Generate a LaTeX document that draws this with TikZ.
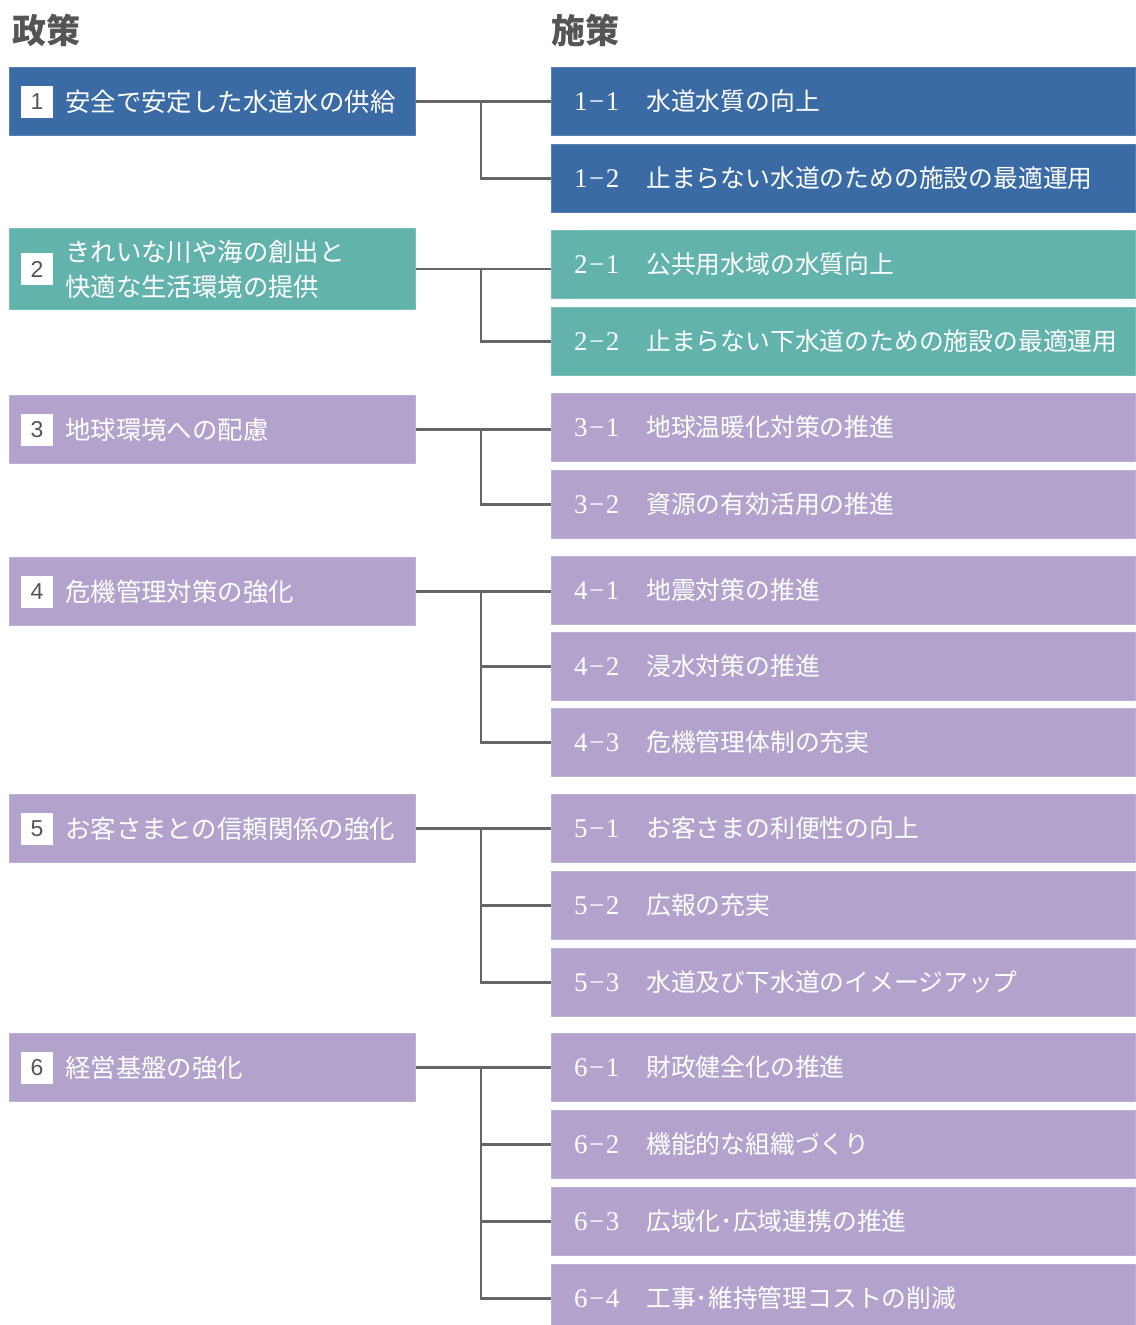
\documentclass[tikz,border=0pt]{standalone}
\usepackage{fontspec}
\newfontfamily\jp{Noto Sans CJK JP}
\newfontfamily\numfont{Liberation Sans}
\newfontfamily\numserif{Liberation Serif}
\definecolor{cblue}{RGB}{58,107,165}
\definecolor{cteal}{RGB}{98,179,171}
\definecolor{cpurp}{RGB}{179,163,204}
\definecolor{cline}{RGB}{102,102,102}
\definecolor{chead}{RGB}{85,85,85}
\tikzset{
  lb/.style={rectangle, inner sep=0pt, minimum width=406pt, line width=1pt},
  rb/.style={rectangle, inner sep=0pt, minimum width=584pt, minimum height=68pt, line width=1pt},
  rt/.style={inner sep=0pt, text=white, font=\jp\fontsize{24.8}{30}\selectfont},
  lt/.style={inner sep=0pt, text=white, align=left, font=\jp\fontsize{25.4}{35}\selectfont},
  badge/.style={rectangle, fill=white, inner sep=0pt, minimum width=32pt, minimum height=32pt, text=chead, font=\numfont\fontsize{23}{23}\selectfont},
  conn/.style={draw=cline, line width=2.5pt},
  head/.style={inner sep=0pt, text=chead, font=\jp\bfseries\fontsize{34}{34}\selectfont}
}
\newcommand\mynum[2]{\makebox[72pt][l]{\numserif\fontsize{27}{30}\selectfont #1\kern1.5pt−\kern1.5pt#2}}
\newcommand\myrbox[6]{%
  \node[rb, fill=#2, draw=#2!85!white, anchor=north west] (#1) at (551,#3) {};
  \node[rt, anchor=west] (#1t) at ([xshift=23pt]#1.west) {\mynum{#4}{#5}#6};
}
\newcommand\mylbox[5]{%
  \node[lb, fill=#2, draw=#2!85!white, minimum height=#4, anchor=north west] (#1) at (9,#3) {};
  \node[badge] (#1b) at ([xshift=28pt]#1.west) {#5};
}
\begin{document}
\begin{tikzpicture}[x=1pt,y=-1pt]
\useasboundingbox (0,0) rectangle (1135,1325);
\node[head, anchor=north west] (h1) at (12,14) {政策};
\node[head, anchor=north west] (h2) at (551,14) {施策};

% left boxes
\mylbox{L1}{cblue}{67}{68pt}{1}
\node[lt, anchor=west] (L1t) at ([xshift=56pt]L1.west) {安全で安定した水道水の供給};
\mylbox{L2}{cteal}{228}{81pt}{2}
\node[lt, anchor=west] (L2t) at ([xshift=56pt]L2.west) {きれいな川や海の創出と\\快適な生活環境の提供};
\mylbox{L3}{cpurp}{395}{68pt}{3}
\node[lt, anchor=west] (L3t) at ([xshift=56pt]L3.west) {地球環境への配慮};
\mylbox{L4}{cpurp}{557}{68pt}{4}
\node[lt, anchor=west] (L4t) at ([xshift=56pt]L4.west) {危機管理対策の強化};
\mylbox{L5}{cpurp}{794}{68pt}{5}
\node[lt, anchor=west] (L5t) at ([xshift=56pt]L5.west) {お客さまとの信頼関係の強化};
\mylbox{L6}{cpurp}{1033}{68pt}{6}
\node[lt, anchor=west] (L6t) at ([xshift=56pt]L6.west) {経営基盤の強化};

% right boxes
\myrbox{R11}{cblue}{67}{1}{1}{水道水質の向上}
\myrbox{R12}{cblue}{144}{1}{2}{止まらない水道のための施設の最適運用}
\myrbox{R21}{cteal}{230}{2}{1}{公共用水域の水質向上}
\myrbox{R22}{cteal}{307}{2}{2}{止まらない下水道のための施設の最適運用}
\myrbox{R31}{cpurp}{393}{3}{1}{地球温暖化対策の推進}
\myrbox{R32}{cpurp}{470}{3}{2}{資源の有効活用の推進}
\myrbox{R41}{cpurp}{556}{4}{1}{地震対策の推進}
\myrbox{R42}{cpurp}{632}{4}{2}{浸水対策の推進}
\myrbox{R43}{cpurp}{708}{4}{3}{危機管理体制の充実}
\myrbox{R51}{cpurp}{794}{5}{1}{お客さまの利便性の向上}
\myrbox{R52}{cpurp}{871}{5}{2}{広報の充実}
\myrbox{R53}{cpurp}{948}{5}{3}{水道及び下水道のイメージアップ}
\myrbox{R61}{cpurp}{1033}{6}{1}{財政健全化の推進}
\myrbox{R62}{cpurp}{1110}{6}{2}{機能的な組織づくり}
\myrbox{R63}{cpurp}{1187}{6}{3}{広域化･広域連携の推進}
\node[rb, fill=cpurp, draw=cpurp!85!white, minimum height=61pt, anchor=north west] (R64) at (551,1264) {};
\node[rt, anchor=west] (R64t) at ([xshift=23pt, yshift=-3.5pt]R64.west) {\mynum{6}{4}工事･維持管理コストの削減};

% connectors
\coordinate (J1) at (481,0);
\draw[conn] (L1.east) -- (L1.east -| R11.west);
\draw[conn] (L1.east -| J1) |- (R12.west);
\draw[conn] (L2.east) -- (L2.east -| R21.west);
\draw[conn] (L2.east -| J1) |- (R22.west);
\draw[conn] (L3.east) -- (L3.east -| R31.west);
\draw[conn] (L3.east -| J1) |- (R32.west);
\draw[conn] (L4.east) -- (L4.east -| R41.west);
\draw[conn] (L4.east -| J1) |- (R43.west);
\draw[conn] (R42.west -| J1) -- (R42.west);
\draw[conn] (L5.east) -- (L5.east -| R51.west);
\draw[conn] (L5.east -| J1) |- (R53.west);
\draw[conn] (R52.west -| J1) -- (R52.west);
\draw[conn] (L6.east) -- (L6.east -| R61.west);
\draw[conn] (L6.east -| J1) |- ([yshift=-3.5pt]R64.west);
\draw[conn] (R62.west -| J1) -- (R62.west);
\draw[conn] (R63.west -| J1) -- (R63.west);
\end{tikzpicture}
\end{document}
